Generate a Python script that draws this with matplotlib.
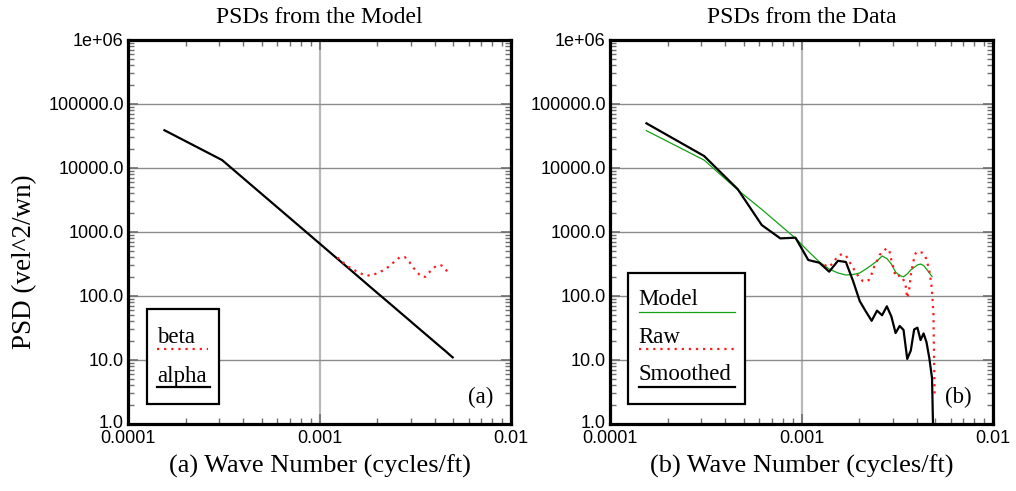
import matplotlib
matplotlib.use("Agg")
import matplotlib.pyplot as plt
import matplotlib.transforms as mtransforms
from matplotlib.patches import Rectangle
from matplotlib.ticker import LogLocator, NullFormatter

# wave number grid of the smoothed spectrum (cycles/ft)
wavenumber = [0.000155, 0.00031, 0.000465, 0.00062, 0.000775, 0.00093, 0.001085, 0.00124,
              0.001395, 0.00155, 0.001705, 0.00186, 0.002015, 0.00217, 0.002325, 0.00248,
              0.002635, 0.00279, 0.002945, 0.0031, 0.003255, 0.00341, 0.003565, 0.00372,
              0.003875, 0.00403, 0.004185, 0.00434, 0.004495, 0.00465, 0.004805, 0.00496]

# finer grid of the raw periodogram
raw_wavenumber = [0.0013175, 0.001395, 0.0014725, 0.00155, 0.0016275, 0.001705, 0.0017825,
                  0.00186, 0.0019375, 0.002015, 0.0020925, 0.00217, 0.0022475, 0.002325,
                  0.0024025, 0.00248, 0.0025575, 0.002635, 0.0027125, 0.00279, 0.0028675,
                  0.002945, 0.0030225, 0.0031, 0.0031775, 0.003255, 0.0033325, 0.00341,
                  0.0034875, 0.003565, 0.0036425, 0.00372, 0.0037975, 0.003875, 0.0039525,
                  0.00403, 0.0041075, 0.004185, 0.0042625, 0.00434, 0.0044175, 0.004495,
                  0.0045725, 0.00465, 0.0047275, 0.004805, 0.0048825, 0.00496]

alpha_psd = [38900, 13300, 4710, 2256, 1274, 799, 538, 382, 283, 216, 169, 135, 110, 91.3,
             76.5, 64.9, 55.5, 48.0, 41.8, 36.6, 32.3, 28.7, 25.6, 23.0, 20.7, 18.7, 17.0,
             15.5, 14.2, 13.0, 11.9, 11.0]

# beta term covers wave numbers 8..31 of the grid
beta_psd = [400, 294, 246, 213, 208, 229, 255, 294, 352, 406, 406, 340, 274, 229, 202, 199,
            229, 264, 288, 305, 300, 274, 241, 221]

model_psd = [38300, 13300, 4530, 2256, 1274, 800, 500, 340, 264, 229, 213, 217, 229, 264,
             305, 352, 422, 385, 316, 237, 209, 199, 221, 255, 280, 305, 316, 300, 264, 229,
             202]

smoothed_psd = [49900, 15400, 4650, 1285, 795, 815, 365, 331, 240, 355, 340, 171, 83, 57,
                41, 59, 50, 69, 48, 26.4, 34, 29.5, 10.4, 14, 30, 32, 20.5, 26, 19, 10.7,
                5.2, 0.05]

raw_psd = [305, 284, 340, 422, 453, 430, 340, 274, 225, 188, 171, 167, 178, 221, 294, 352,
           437, 487, 523, 552, 533, 365, 274, 202, 202, 209, 205, 178, 154, 93, 120, 213,
           294, 393, 470, 496, 487, 478, 478, 453, 422, 372, 305, 246, 178, 120, 55, 2.6]

xticks = [0.0001, 0.001, 0.01]
xtick_labels = ["0.0001", "0.001", "0.01"]
yticks = [1, 10, 100, 1000, 10000, 100000, 1000000]
ytick_labels = ["1.0", "10.0", "100.0", "1000.0", "10000.0", "100000.0", "1e+06"]

SERIF = "Liberation Serif"
SANS = "Liberation Sans"
RED = "#ff1a1a"
GREEN = "#14a014"


def style_axes(ax, title, xlabel):
    ax.set_xscale("log")
    ax.set_yscale("log")
    ax.set_xlim(0.0001, 0.01)
    ax.set_ylim(1, 1e6)
    ax.set_xticks(xticks, xtick_labels)
    ax.set_yticks(yticks, ytick_labels)
    ax.xaxis.set_minor_locator(LogLocator(base=10, subs=range(2, 10)))
    ax.yaxis.set_minor_locator(LogLocator(base=10, subs=range(2, 10), numticks=20))
    ax.xaxis.set_minor_formatter(NullFormatter())
    ax.yaxis.set_minor_formatter(NullFormatter())
    for lab in ax.get_xticklabels() + ax.get_yticklabels():
        lab.set_fontfamily(SANS)
        lab.set_fontsize(13)
    ax.tick_params(which="both", direction="in", top=True, right=True, color="#707070")
    ax.tick_params(which="major", length=7, width=1.2, pad=3)
    ax.tick_params(which="minor", length=4, width=1.0)
    ax.tick_params(axis="x", which="major", pad=4.5)
    # lift the bottom "1.0" a little so it sits clear of "0.0001"
    bottom = ax.yaxis.get_major_ticks()[0].label1
    bottom.set_transform(bottom.get_transform() +
                         mtransforms.ScaledTranslation(0, 2 / 72, ax.figure.dpi_scale_trans))
    ax.grid(True, axis="y", which="major", color="#8c8c8c", lw=1.0, zorder=0)
    ax.grid(True, axis="x", which="major", color="#b8b8b8", lw=1.6, zorder=0)
    for sp in ax.spines.values():
        sp.set_linewidth(2.3)
        sp.set_zorder(6)
    ax.set_title(title, fontfamily=SERIF, fontsize=17, pad=12)
    ax.set_xlabel(xlabel, fontfamily=SERIF, fontsize=19, labelpad=5)


def legend_box(ax, x0, y0, x1, y1, entries, fontsize=16.5):
    ax.add_patch(Rectangle((x0, y0), x1 - x0, y1 - y0, transform=ax.transAxes,
                           facecolor="white", edgecolor="black", lw=1.6, zorder=7))
    for label, ty, ly, lx1, kw in entries:
        ax.text(x0 + 0.027, ty, label, transform=ax.transAxes, fontfamily=SERIF,
                fontsize=fontsize, va="baseline", ha="left", zorder=8)
        ax.plot([x0 + 0.027, lx1], [ly, ly], transform=ax.transAxes, zorder=8, **kw)


fig = plt.figure(figsize=(10.16, 4.91), dpi=100)
ax_a = fig.add_axes([128 / 1016, 67 / 491, 383 / 1016, 384 / 491])
ax_b = fig.add_axes([610 / 1016, 67 / 491, 383 / 1016, 384 / 491])

dotted = dict(color=RED, lw=1.6, linestyle=(0, (1, 2.2)))
solid_k = dict(color="black", lw=1.6)
solid_g = dict(color=GREEN, lw=0.9)

# (a) model PSDs
ax_a.plot(wavenumber, alpha_psd, zorder=3, **solid_k)
ax_a.plot(wavenumber[7:31], beta_psd, zorder=3, **dotted)
style_axes(ax_a, "PSDs from the Model", "(a) Wave Number (cycles/ft)")
legend_box(ax_a, 0.050, 0.051, 0.238, 0.299, [
    ("beta", 0.212, 0.195, 0.209, dotted),
    ("alpha", 0.110, 0.097, 0.214, solid_k),
])
ax_a.text(0.955, 0.055, "(a)", transform=ax_a.transAxes, fontfamily=SERIF, fontsize=16.5,
          ha="right", va="baseline")

# (b) PSDs estimated from the data
ax_b.plot(wavenumber[:31], model_psd, zorder=3, **solid_g)
ax_b.plot(raw_wavenumber, raw_psd, zorder=3, **dotted)
ax_b.plot(wavenumber, smoothed_psd, zorder=4, **solid_k)
style_axes(ax_b, "PSDs from the Data", "(b) Wave Number (cycles/ft)")
legend_box(ax_b, 0.048, 0.052, 0.352, 0.394, [
    ("Model", 0.310, 0.292, 0.326, solid_g),
    ("Raw", 0.212, 0.195, 0.326, dotted),
    ("Smoothed", 0.115, 0.096, 0.326, solid_k),
])
ax_b.text(0.945, 0.055, "(b)", transform=ax_b.transAxes, fontfamily=SERIF, fontsize=16.5,
          ha="right", va="baseline")

fig.text(25 / 1016, 1 - 262 / 491, "PSD (vel^2/wn)", rotation=90, fontfamily=SERIF,
         fontsize=19.5, ha="center", va="center")

fig.savefig("out.png", dpi=100)
